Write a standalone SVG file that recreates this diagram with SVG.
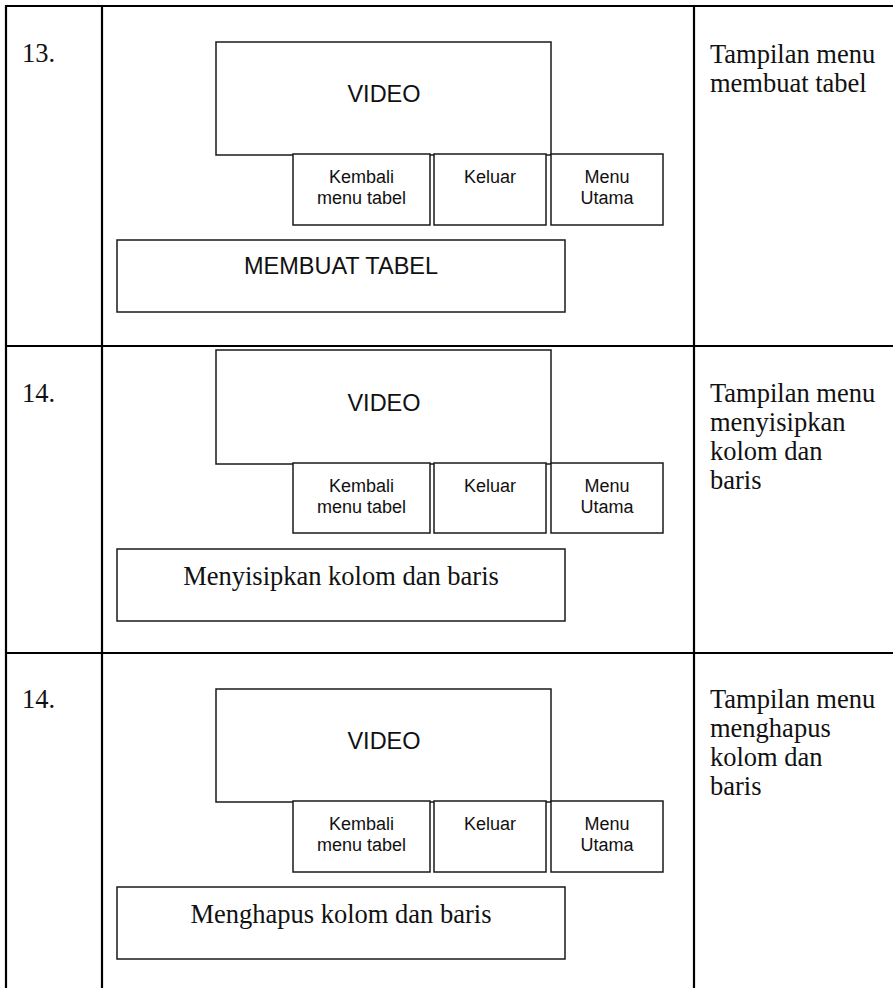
<svg xmlns="http://www.w3.org/2000/svg" width="893" height="988" viewBox="0 0 893 988">
<style>
.grid{stroke:#000;stroke-width:2.2;fill:none}
.box{stroke:#1a1a1a;stroke-width:1.5;fill:#fff}
.sans{font-family:"Liberation Sans",Arial,sans-serif;fill:#111;text-anchor:middle}
.big{font-size:23.5px}
.small{font-size:18px}
.serif{font-family:"Liberation Serif","Times New Roman",serif;fill:#111;font-size:26.5px}
.mid{text-anchor:middle}
</style>
<rect width="893" height="988" fill="#fff"/>
<g id="table">
<line class="grid" x1="5" y1="6" x2="893" y2="6"/>
<line class="grid" x1="6" y1="5" x2="6" y2="988"/>
<line class="grid" x1="102" y1="6" x2="102" y2="988"/>
<line class="grid" x1="694" y1="6" x2="694" y2="988"/>
<line class="grid" x1="6" y1="346" x2="893" y2="346"/>
<line class="grid" x1="6" y1="653" x2="893" y2="653"/>
</g>
<g id="connectors"/>
<g id="row13">
<text class="serif" x="22" y="62">13.</text>
<g id="r1-video"><rect class="box" x="216" y="42" width="335" height="113"/><text class="sans big" x="384" y="102">VIDEO</text></g>
<g id="r1-kembali"><rect class="box" x="293" y="154" width="137" height="71"/><text class="sans small" x="361.5" y="183">Kembali</text><text class="sans small" x="361.5" y="204">menu tabel</text></g>
<g id="r1-keluar"><rect class="box" x="434" y="154" width="112" height="71"/><text class="sans small" x="490" y="183">Keluar</text></g>
<g id="r1-menu"><rect class="box" x="551" y="154" width="112" height="71"/><text class="sans small" x="607" y="183">Menu</text><text class="sans small" x="607" y="204">Utama</text></g>
<g id="r1-content"><rect class="box" x="117" y="240" width="448" height="72"/><text class="sans big" x="341" y="274">MEMBUAT TABEL</text></g>
<text class="serif" x="710" y="63">Tampilan menu</text>
<text class="serif" x="710" y="92">membuat tabel</text>
</g>
<g id="row14a">
<text class="serif" x="22" y="402">14.</text>
<g id="r2-video"><rect class="box" x="216" y="350" width="335" height="114"/><text class="sans big" x="384" y="411">VIDEO</text></g>
<g id="r2-kembali"><rect class="box" x="293" y="463" width="137" height="70"/><text class="sans small" x="361.5" y="492">Kembali</text><text class="sans small" x="361.5" y="513">menu tabel</text></g>
<g id="r2-keluar"><rect class="box" x="434" y="463" width="112" height="70"/><text class="sans small" x="490" y="492">Keluar</text></g>
<g id="r2-menu"><rect class="box" x="551" y="463" width="112" height="70"/><text class="sans small" x="607" y="492">Menu</text><text class="sans small" x="607" y="513">Utama</text></g>
<g id="r2-content"><rect class="box" x="117" y="549" width="448" height="72"/><text class="serif mid" x="341" y="585">Menyisipkan kolom dan baris</text></g>
<text class="serif" x="710" y="402">Tampilan menu</text>
<text class="serif" x="710" y="431">menyisipkan</text>
<text class="serif" x="710" y="460">kolom dan</text>
<text class="serif" x="710" y="489">baris</text>
</g>
<g id="row14b">
<text class="serif" x="22" y="708">14.</text>
<g id="r3-video"><rect class="box" x="216" y="689" width="335" height="113"/><text class="sans big" x="384" y="749">VIDEO</text></g>
<g id="r3-kembali"><rect class="box" x="293" y="801" width="137" height="71"/><text class="sans small" x="361.5" y="830">Kembali</text><text class="sans small" x="361.5" y="851">menu tabel</text></g>
<g id="r3-keluar"><rect class="box" x="434" y="801" width="112" height="71"/><text class="sans small" x="490" y="830">Keluar</text></g>
<g id="r3-menu"><rect class="box" x="551" y="801" width="112" height="71"/><text class="sans small" x="607" y="830">Menu</text><text class="sans small" x="607" y="851">Utama</text></g>
<g id="r3-content"><rect class="box" x="117" y="887" width="448" height="72"/><text class="serif mid" x="341" y="923">Menghapus kolom dan baris</text></g>
<text class="serif" x="710" y="708">Tampilan menu</text>
<text class="serif" x="710" y="737">menghapus</text>
<text class="serif" x="710" y="766">kolom dan</text>
<text class="serif" x="710" y="795">baris</text>
</g>
</svg>
